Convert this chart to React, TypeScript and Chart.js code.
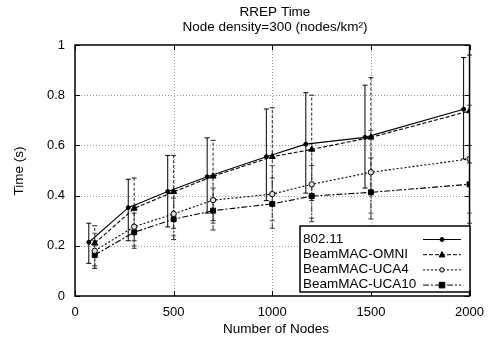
import React, { useEffect, useRef } from "react";
import { Chart, registerables } from "chart.js";

Chart.register(...registerables);

const TITLE = ["RREP Time", "Node density=300 (nodes/km²)"];
const X_LABEL = "Number of Nodes";
const Y_LABEL = "Time (s)";

const X_8021 = [70, 270, 470, 670, 970, 1170, 1470, 1970];
const X_OTHER = [100, 300, 500, 700, 1000, 1200, 1500, 2000];

const LABELS = ["802.11", "BeamMAC-OMNI", "BeamMAC-UCA4", "BeamMAC-UCA10"];

const MEAN_8021 = [0.214, 0.352, 0.416, 0.475, 0.555, 0.605, 0.632, 0.744];
const LOW_8021 = [0.13, 0.22, 0.275, 0.33, 0.38, 0.41, 0.43, 0.546];
const HIGH_8021 = [0.29, 0.465, 0.56, 0.63, 0.745, 0.81, 0.84, 0.95];

const MEAN_OMNI = [0.21, 0.349, 0.415, 0.477, 0.555, 0.584, 0.632, 0.737];
const LOW_OMNI = [0.12, 0.22, 0.27, 0.3, 0.37, 0.38, 0.42, 0.53];
const HIGH_OMNI = [0.28, 0.47, 0.56, 0.62, 0.75, 0.8, 0.87, 0.96];

const MEAN_UCA4 = [0.18, 0.276, 0.327, 0.382, 0.406, 0.445, 0.493, 0.546];
const LOW_UCA4 = [0.11, 0.2, 0.24, 0.29, 0.3, 0.31, 0.33, 0.33];
const HIGH_UCA4 = [0.25, 0.36, 0.42, 0.48, 0.52, 0.58, 0.66, 0.76];

const MEAN_UCA10 = [0.163, 0.254, 0.306, 0.34, 0.367, 0.398, 0.413, 0.445];
const LOW_UCA10 = [0.11, 0.19, 0.225, 0.263, 0.27, 0.296, 0.307, 0.29];
const HIGH_UCA10 = [0.22, 0.33, 0.39, 0.43, 0.47, 0.52, 0.55, 0.6];

const X_TICKS = [0, 500, 1000, 1500, 2000];
const Y_TICKS = [0, 0.2, 0.4, 0.6, 0.8, 1];

const FONT = "'Liberation Sans', Arial, sans-serif";

const STYLES = [
  { dash: [] as number[], errDash: [] as number[], errColor: "#000", point: "circle", r: 2, fill: "#000" },
  { dash: [4, 2], errDash: [3, 2], errColor: "#222", point: "triangle", r: 3.5, fill: "#000" },
  { dash: [2, 2], errDash: [1.5, 1.5], errColor: "#555", point: "circle", r: 2.7, fill: "#ddd" },
  { dash: [6, 2, 2, 2], errDash: [5, 2, 1.5, 2], errColor: "#333", point: "rect", r: 3.5, fill: "#000" },
];

function drawMarker(ctx: CanvasRenderingContext2D, kind: string, x: number, y: number, r: number, fill: string) {
  ctx.save();
  ctx.setLineDash([]);
  ctx.fillStyle = fill;
  ctx.strokeStyle = "#000";
  ctx.lineWidth = 1;
  ctx.beginPath();
  if (kind === "circle") {
    ctx.arc(x, y, r, 0, Math.PI * 2);
  } else if (kind === "triangle") {
    ctx.moveTo(x, y - r * 1.1);
    ctx.lineTo(x + r, y + r * 0.8);
    ctx.lineTo(x - r, y + r * 0.8);
    ctx.closePath();
  } else {
    ctx.rect(x - r, y - r, r * 2, r * 2);
  }
  ctx.fill();
  ctx.stroke();
  ctx.restore();
}

export default function App() {
  const ref = useRef<HTMLCanvasElement | null>(null);

  useEffect(() => {
    document.body.style.margin = "0";
    const canvas = ref.current;
    if (!canvas) return;

    const series = [
      { xs: X_8021, mean: MEAN_8021, low: LOW_8021, high: HIGH_8021 },
      { xs: X_OTHER, mean: MEAN_OMNI, low: LOW_OMNI, high: HIGH_OMNI },
      { xs: X_OTHER, mean: MEAN_UCA4, low: LOW_UCA4, high: HIGH_UCA4 },
      { xs: X_OTHER, mean: MEAN_UCA10, low: LOW_UCA10, high: HIGH_UCA10 },
    ];

    const datasets = series.map((s, i) => ({
      label: LABELS[i],
      data: s.xs.map((x, j) => ({ x, y: s.mean[j] })),
      borderColor: "#000",
      borderWidth: 1.1,
      borderDash: STYLES[i].dash,
      pointStyle: STYLES[i].point,
      pointRadius: STYLES[i].r,
      pointBackgroundColor: STYLES[i].fill,
      pointBorderColor: "#000",
      pointBorderWidth: 1,
      fill: false,
      tension: 0,
    }));

    const plugin = {
      id: "custom",
      beforeDatasetsDraw(chart: any) {
        const { ctx, chartArea: a, scales } = chart;
        const xs = scales.x;
        const ys = scales.y;
        ctx.save();
        ctx.strokeStyle = "#9a9a9a";
        ctx.lineWidth = 1;
        ctx.setLineDash([1, 2]);
        X_TICKS.slice(1, -1).forEach((v) => {
          const px = Math.round(xs.getPixelForValue(v)) + 0.5;
          ctx.beginPath();
          ctx.moveTo(px, a.top);
          ctx.lineTo(px, a.bottom);
          ctx.stroke();
        });
        Y_TICKS.slice(1, -1).forEach((v) => {
          const py = Math.round(ys.getPixelForValue(v)) + 0.5;
          ctx.beginPath();
          ctx.moveTo(a.left, py);
          ctx.lineTo(a.right, py);
          ctx.stroke();
        });
        ctx.restore();
        series.forEach((s, i) => {
          ctx.save();
          ctx.strokeStyle = STYLES[i].errColor;
          ctx.lineWidth = 1;
          s.xs.forEach((x, j) => {
            const px = xs.getPixelForValue(x);
            const pl = ys.getPixelForValue(s.low[j]);
            const ph = ys.getPixelForValue(s.high[j]);
            ctx.setLineDash(STYLES[i].errDash);
            ctx.beginPath();
            ctx.moveTo(px, pl);
            ctx.lineTo(px, ph);
            ctx.stroke();
            ctx.setLineDash([]);
            ctx.beginPath();
            ctx.moveTo(px - 2.5, pl);
            ctx.lineTo(px + 2.5, pl);
            ctx.moveTo(px - 2.5, ph);
            ctx.lineTo(px + 2.5, ph);
            ctx.stroke();
          });
          ctx.restore();
        });
      },
      afterDraw(chart: any) {
        const { ctx, chartArea: a, scales } = chart;
        const xs = scales.x;
        const ys = scales.y;
        ctx.save();
        ctx.strokeStyle = "#000";
        ctx.lineWidth = 1;
        ctx.setLineDash([]);
        ctx.beginPath();
        X_TICKS.forEach((v) => {
          const px = Math.round(xs.getPixelForValue(v)) + 0.5;
          ctx.moveTo(px, a.bottom);
          ctx.lineTo(px, a.bottom - 5);
          ctx.moveTo(px, a.top);
          ctx.lineTo(px, a.top + 5);
        });
        Y_TICKS.forEach((v) => {
          const py = Math.round(ys.getPixelForValue(v)) + 0.5;
          ctx.moveTo(a.left, py);
          ctx.lineTo(a.left + 5, py);
          ctx.moveTo(a.right, py);
          ctx.lineTo(a.right - 5, py);
        });
        ctx.stroke();
        ctx.lineWidth = 1.5;
        ctx.strokeRect(a.left, a.top, a.right - a.left, a.bottom - a.top);

        const lx = 300, ly = 226, lw = 170, lh = 66;
        ctx.fillStyle = "#fff";
        ctx.fillRect(lx, ly, lw, lh);
        ctx.lineWidth = 1.5;
        ctx.strokeStyle = "#000";
        ctx.strokeRect(lx, ly, lw, lh);
        ctx.font = `13.5px ${FONT}`;
        ctx.textBaseline = "middle";
        ctx.textAlign = "left";
        LABELS.forEach((lab, i) => {
          const cy = ly + 13 + i * 15.2;
          ctx.fillStyle = "#000";
          ctx.fillText(lab, lx + 3, cy);
          ctx.lineWidth = 1;
          ctx.setLineDash(STYLES[i].dash);
          ctx.beginPath();
          ctx.moveTo(423, cy + 0.5);
          ctx.lineTo(461, cy + 0.5);
          ctx.stroke();
          ctx.setLineDash([]);
          drawMarker(ctx, STYLES[i].point, 442, cy + 0.5, i === 0 ? 2 : i === 2 ? 2.2 : 2.8, STYLES[i].fill);
        });

        ctx.fillStyle = "#000";
        ctx.textAlign = "center";
        ctx.font = `13.5px ${FONT}`;
        ctx.fillText(TITLE[0], 275, 12);
        ctx.fillText(TITLE[1], 275, 27);
        ctx.fillText(X_LABEL, 276, 329);
        ctx.translate(19, 171);
        ctx.rotate(-Math.PI / 2);
        ctx.fillText(Y_LABEL, 0, 0);
        ctx.restore();
      },
    };

    const chart = new Chart(canvas, {
      type: "line",
      data: { datasets },
      options: {
        animation: false,
        responsive: false,
        maintainAspectRatio: false,
        layout: { padding: { top: 45, right: 15, left: 0, bottom: 0 } },
        plugins: { legend: { display: false }, title: { display: false }, tooltip: { enabled: false } },
        scales: {
          x: {
            type: "linear",
            min: 0,
            max: 2000,
            afterFit: (s: any) => { s.height = 44; },
            afterBuildTicks: (s: any) => { s.ticks = X_TICKS.map((v) => ({ value: v })); },
            grid: { display: false, drawTicks: false },
            border: { display: false },
            ticks: {
              padding: 9,
              color: "#000",
              font: { family: FONT, size: 13 },
              callback: (v: any) => String(v),
            },
          },
          y: {
            type: "linear",
            min: 0,
            max: 1,
            afterFit: (s: any) => { s.width = 75; },
            afterBuildTicks: (s: any) => { s.ticks = Y_TICKS.map((v) => ({ value: v })); },
            grid: { display: false, drawTicks: false },
            border: { display: false },
            ticks: {
              padding: 10,
              color: "#000",
              font: { family: FONT, size: 13 },
              callback: (v: any) => String(Math.round(v * 10) / 10),
            },
          },
        },
      },
      plugins: [plugin],
    } as any);

    return () => chart.destroy();
  }, []);

  return (
    <div style={{ position: "absolute", left: 0, top: 0, width: 493, height: 340 }}>
      <canvas ref={ref} width={493} height={340} style={{ width: 493, height: 340 }} />
    </div>
  );
}
